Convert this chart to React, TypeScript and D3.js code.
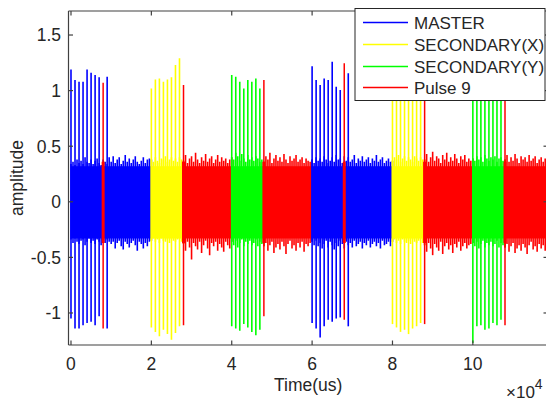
import React from "react";
import * as d3 from "d3";

// ---------- data (time in units of 1e4 us) ----------
const xTicks = [0, 2, 4, 6, 8, 10];
const yTicks = [-1, -0.5, 0, 0.5, 1, 1.5];
const seriesNames = ["MASTER", "SECONDARY(X)", "SECONDARY(Y)", "Pulse 9"];
const seriesColors = ["#0000ff", "#ffff00", "#00ff00", "#ff0000"];

// noise band segments: [start, end, series index]
const bandSegments: [number, number, number][] = [
  [0, 2, 0],
  [2, 2.8, 1],
  [2.8, 4, 3],
  [4, 4.8, 2],
  [4.8, 6, 3],
  [6, 8, 0],
  [8, 8.8, 1],
  [8.8, 10, 3],
  [10, 10.8, 2],
  [10.8, 11.85, 3],
];
const bandStep = 0.05;
// solid core of the noise band
const bandCore = [0.32, -0.33];
// upper / lower envelope of the noise band (hundredths of amplitude), one value every 0.05
const bandUpper = (
  "34 36 33 38 35 37 34 40 36 35 38 34 37 39 35 33 38 36 34 40 " +
  "36 41 35 38 40 34 37 42 36 39 35 38 41 36 34 37 40 35 38 39 " +
  "38 36 40 37 35 39 38 41 36 38 40 37 39 36 40 38 " +
  "37 42 35 39 41 36 44 38 35 40 37 43 36 39 41 35 38 42 36 40 37 39 35 38 " +
  "40 38 44 41 37 43 39 36 42 38 40 37 41 39 36 38 " +
  "36 41 38 44 35 39 42 37 40 36 43 38 35 41 37 39 42 36 38 40 35 39 37 36 " +
  "38 35 40 37 39 36 41 38 35 37 40 36 42 38 39 35 41 37 40 36 38 42 35 39 37 41 36 38 40 35 39 37 42 36 38 40 35 37 39 36 " +
  "37 40 38 42 36 39 41 37 40 38 36 41 39 37 40 38 " +
  "38 43 36 40 45 37 41 39 35 42 38 44 36 40 37 43 39 35 41 38 42 36 39 37 " +
  "39 37 41 38 40 36 42 39 37 40 38 41 36 39 40 37 " +
  "38 42 36 40 37 43 39 35 41 38 40 36 42 37 39 41 35 38 40 36 39 37"
).split(" ").map((v) => +v / 100);
const bandLower = (
  "34 37 33 36 38 35 34 39 36 33 37 35 38 34 36 39 35 37 34 36 " +
  "38 36 42 37 35 40 43 36 38 41 37 35 39 44 36 38 42 37 40 36 " +
  "35 33 36 34 37 33 35 36 34 37 33 35 36 34 33 36 " +
  "38 44 36 41 52 37 40 43 36 46 39 35 42 48 37 40 36 44 38 41 45 36 39 42 " +
  "36 39 35 41 37 34 40 36 38 35 39 37 34 40 36 38 " +
  "40 37 44 39 36 46 41 38 43 36 40 47 38 35 42 39 44 37 41 36 45 38 40 37 " +
  "36 39 35 40 37 42 38 35 41 36 39 43 37 40 35 38 42 36 39 37 41 35 40 38 36 42 37 39 35 41 38 36 40 37 42 35 39 38 36 40 " +
  "36 34 37 35 38 34 36 37 35 38 34 36 37 35 34 37 " +
  "39 45 37 42 48 38 41 44 36 47 40 37 43 39 46 38 41 36 44 40 37 42 39 38 " +
  "37 40 36 42 38 35 41 37 39 36 40 38 35 41 37 39 " +
  "41 38 45 40 37 46 42 39 44 38 41 47 39 36 43 40 45 38 42 39 44 40"
).split(" ").map((v) => -v / 100);

// pulse spikes: [time, top, bottom]
const masterPulses: [number, number, number][] = [
  [0.0, 1.19, -1.05], [0.1, 1.095, -1.14], [0.2, 1.08, -1.14], [0.3, 1.08, -1.11],
  [0.4, 1.19, -1.09], [0.5, 1.16, -1.08], [0.6, 1.14, -1.11], [0.7, 1.12, -1.03],
  [0.9, 1.125, -1.14],
  [6.0, 1.22, -1.09], [6.1, 1.095, -1.14], [6.2, 1.05, -1.22], [6.3, 1.11, -1.12],
  [6.4, 1.095, -1.06], [6.5, 1.26, -1.08], [6.6, 1.035, -1.05], [6.7, 1.005, -1.04],
  [6.9, 1.155, -1.12],
];
const secXPulses: [number, number, number][] = [
  [2.0, 1.02, -1.13], [2.1, 1.1, -1.17], [2.2, 1.11, -1.21], [2.3, 1.08, -1.15],
  [2.4, 1.1, -1.19], [2.5, 1.12, -1.24], [2.6, 1.23, -1.18], [2.7, 1.29, -1.12],
  [8.0, 1.08, -1.1], [8.1, 1.12, -1.13], [8.2, 1.1, -1.17], [8.3, 1.15, -1.15],
  [8.4, 1.1, -1.19], [8.5, 1.12, -1.14], [8.6, 1.2, -1.12], [8.7, 1.25, -1.09],
];
const secYPulses: [number, number, number][] = [
  [4.0, 1.14, -1.12], [4.1, 1.125, -1.14], [4.2, 1.08, -1.16], [4.3, 1.02, -1.1],
  [4.4, 1.095, -1.13], [4.5, 1.08, -1.17], [4.6, 1.11, -1.2], [4.7, 1.02, -1.15],
  [10.0, 1.15, -1.27], [10.1, 1.12, -1.12], [10.2, 1.1, -1.11], [10.3, 1.08, -1.15],
  [10.4, 1.12, -1.14], [10.5, 1.1, -1.09], [10.6, 1.13, -1.11], [10.7, 1.05, -1.06],
];
const pulse9: [number, number, number][] = [
  [0.8, 1.07, -1.14], [2.8, 1.05, -1.11], [4.8, 1.095, -1.03],
  [6.8, 1.245, -1.06], [8.8, 1.1, -1.1], [10.8, 1.1, -1.11],
];
const pulse9Core = [0.36, -0.37];

const W = 546;
const H = 401;
const L = 68.5, R = 548, T = 11, B = 345;
const FONT = "'Liberation Sans', Arial, Helvetica, sans-serif";
const AX = "#262626";

export default function App() {
  const x = d3.scaleLinear().domain([-0.062, 11.87]).range([L, R]);
  const y = d3.scaleLinear().domain([-1.288, 1.716]).range([B, T]);

  const samples = bandUpper.map((u, i) => ({ t: i * bandStep, u, l: bandLower[i] }));

  const groups: { data: [number, number, number][]; color: string }[] = [
    { data: masterPulses, color: seriesColors[0] },
    { data: secXPulses, color: seriesColors[1] },
    { data: secYPulses, color: seriesColors[2] },
  ];

  const legendX = 355, legendY = 8.5, legendW = 190, legendH = 92;
  const rowY = [22.5, 44.5, 66.5, 87.5];

  return (
    <svg
      width={W}
      height={H}
      style={{ position: "absolute", left: 0, top: 0, display: "block", background: "#fff" }}
      fontFamily={FONT}
    >
      <defs>
        <clipPath id="plotclip">
          <rect x={L} y={T} width={R - L} height={B - T} />
        </clipPath>
      </defs>
      <rect x={0} y={0} width={W} height={H} fill="#fff" />
      <g clipPath="url(#plotclip)">
        {bandSegments.map(([s, e, k], i) => {
          const seg = samples.filter((d) => d.t >= s - 1e-9 && d.t <= e + 1e-9);
          const c = seriesColors[k];
          return (
            <g key={"b" + i}>
              <rect x={x(s)} width={x(e) - x(s)} y={y(bandCore[0])} height={y(bandCore[1]) - y(bandCore[0])} fill={c} />
              {seg.map((d, j) => (
                <line key={j} x1={x(d.t)} x2={x(d.t)} y1={y(d.u)} y2={y(d.l)} stroke={c} strokeWidth={1.6} />
              ))}
            </g>
          );
        })}
        {groups.map((g, gi) =>
          g.data.map(([t, top, bot], i) => (
            <line
              key={"p" + gi + "-" + i}
              x1={x(t)}
              x2={x(t)}
              y1={y(top)}
              y2={y(bot)}
              stroke={g.color}
              strokeWidth={1.6}
            />
          ))
        )}
        {pulse9.map(([t, top, bot], i) => (
          <g key={"r" + i}>
            <line x1={x(t)} x2={x(t)} y1={y(pulse9Core[0])} y2={y(pulse9Core[1])} stroke={seriesColors[3]} strokeWidth={3} />
            <line x1={x(t)} x2={x(t)} y1={y(top)} y2={y(bot)} stroke={seriesColors[3]} strokeWidth={1.5} />
          </g>
        ))}
      </g>

      {/* axes box */}
      <g stroke="#404040" strokeWidth={1.2} fill="none">
        <line x1={L} x2={R} y1={B} y2={B} />
        <line x1={L} x2={R} y1={T} y2={T} />
        <line x1={L} x2={L} y1={T} y2={B} />
        <line x1={R} x2={R} y1={T} y2={B} />
        {xTicks.map((t) => (
          <g key={"xt" + t}>
            <line x1={x(t)} x2={x(t)} y1={B} y2={B - 4.5} />
            <line x1={x(t)} x2={x(t)} y1={T} y2={T + 4.5} />
          </g>
        ))}
        {yTicks.map((t) => (
          <g key={"yt" + t}>
            <line x1={L} x2={L + 4.5} y1={y(t)} y2={y(t)} />
            <line x1={R} x2={R - 4.5} y1={y(t)} y2={y(t)} />
          </g>
        ))}
      </g>

      {/* tick labels */}
      <g fill={AX} fontSize={17.5}>
        {xTicks.map((t) => (
          <text key={"xl" + t} x={x(t)} y={370} textAnchor="middle">
            {String(t)}
          </text>
        ))}
        {yTicks.map((t) => (
          <text key={"yl" + t} x={61} y={y(t)} dy="0.36em" textAnchor="end">
            {String(t)}
          </text>
        ))}
      </g>

      {/* axis labels */}
      <text x={(L + R) / 2} y={391} textAnchor="middle" fontSize={17.5} fill={AX}>
        Time(us)
      </text>
      <text
        transform={`translate(23,${(T + B) / 2}) rotate(-90)`}
        textAnchor="middle"
        fontSize={17.5}
        fill={AX}
      >
        amplitude
      </text>
      <text x={506} y={398} fontSize={17} fill={AX}>
        ×10
        <tspan fontSize={14} dy={-9}>4</tspan>
      </text>

      {/* legend */}
      <rect x={legendX} y={legendY} width={legendW} height={legendH} fill="#fff" stroke="#262626" strokeWidth={1} />
      {seriesNames.map((n, i) => (
        <g key={"lg" + i}>
          <line x1={363} x2={408} y1={rowY[i]} y2={rowY[i]} stroke={seriesColors[i]} strokeWidth={1.3} />
          <text x={414} y={rowY[i]} dy="0.36em" fontSize={17} fill={AX}>
            {n}
          </text>
        </g>
      ))}
    </svg>
  );
}
